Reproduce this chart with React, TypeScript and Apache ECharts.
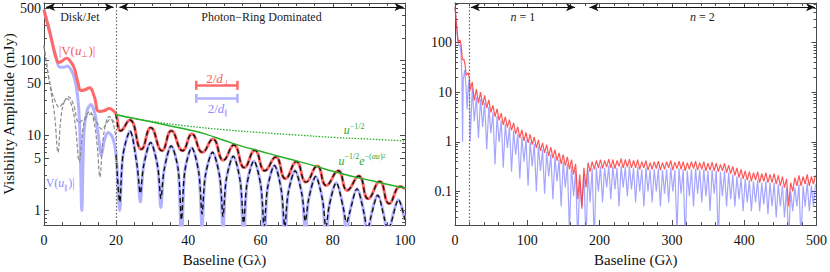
import React, { useEffect, useRef } from "react";
import * as echarts from "echarts";

const FONT = '"Liberation Serif", "Times New Roman", serif';

// ---------- LEFT PANEL DATA (u in Gλ, value in mJy) ----------
const leftRedEarly = [
  [0, 480], [0.8, 340], [1.6, 240], [2.5, 160], [3.4, 108], [4.1, 95], [5, 99], [6.3, 108],
  [7.4, 97], [8.4, 80], [9.4, 52], [10.3, 40], [11.4, 41], [12.6, 43.5], [13.9, 34], [15.3, 21],
  [16.7, 21.5], [18.1, 23], [19.2, 21.5],
];
// red |V(u_perp)| after 20 (and its black dashed fit)
const leftUpper = [
  [20, 19.3], [21.3, 11.6], [23.8, 16.2], [27, 6.6], [29.6, 12.8], [32.7, 6.3], [35.3, 11.6],
  [38.4, 6.3], [41, 10.5], [43.9, 6.0], [46.8, 9.0], [49.7, 4.7], [52.6, 7.5], [55.5, 3.75],
  [58.4, 6.4], [61.2, 3.4], [64.2, 5.2], [66.9, 2.66], [69.9, 4.5], [72.6, 2.4], [75.7, 3.95],
  [78.2, 2.16], [81.5, 3.4], [84, 1.86], [87.2, 2.9], [89.8, 1.44], [93, 2.45], [95.6, 1.24],
  [98.7, 2.1], [100, 1.95],
];
const leftBlueEarly = [
  [0, 480], [0.8, 345], [1.6, 255], [2.4, 165], [3.3, 114], [4.3, 82], [5.4, 82], [6.5, 85],
  [7.5, 76], [8.4, 60], [9.3, 35], [9.9, 14], [10.5, 1.0], [11.1, 11], [12, 22], [13, 26],
  [14.1, 20], [15.1, 10], [15.9, 5.4], [16.7, 8.5], [17.8, 11], [19, 9.5],
];
// blue |V(u_par)| after 20 and its black dashed fit: shared baselines
const lowerU = [
  20, 21, 21.9, 23.85, 25.8, 26.7, 27.6, 29.55, 31.5, 32.4, 33.3, 35.25, 37.2, 38.1, 39, 40.95,
  42.9, 43.8, 44.7, 46.7, 48.7, 49.6, 50.5, 52.45, 54.4, 55.3, 56.2, 58.15, 60.1, 61, 61.9, 63.85,
  65.8, 66.7, 67.6, 69.55, 71.5, 72.4, 73.3, 75.25, 77.2, 78.1, 79, 80.95, 82.9, 83.8, 84.7, 86.7,
  88.7, 89.6, 90.5, 92.45, 94.4, 95.3, 96.2, 98.2, 100,
];
const lowerBlack = [
  5.5, 1.3, 5.5, 11.5, 4.0, 1.7, 3.9, 8.1, 3.9, 1.45, 3.5, 7.3, 3.5, 0.75, 3.3, 6.9,
  3.2, 0.9, 2.9, 6.0, 2.8, 0.83, 2.6, 5.3, 2.4, 0.68, 2.2, 4.6, 2.1, 0.6, 1.95, 4.0,
  1.8, 0.6, 1.65, 3.4, 1.6, 0.72, 1.4, 2.85, 1.35, 0.6, 1.15, 2.35, 1.1, 0.7, 0.95, 1.95,
  0.9, 0.55, 0.8, 1.6, 0.75, 0.55, 0.7, 1.4, 0.75,
];
const lowerBlue = [
  5.5, 1.0, 5.5, 11.5, 4.0, 1.3, 3.9, 8.1, 3.9, 1.1, 3.5, 7.3, 3.5, 0.3, 3.3, 6.9,
  3.2, 0.6, 2.9, 6.0, 2.8, 0.55, 2.6, 5.3, 2.4, 0.3, 2.2, 4.6, 2.1, 0.3, 1.95, 4.0,
  1.8, 0.3, 1.65, 3.4, 1.6, 0.5, 1.4, 2.85, 1.35, 0.3, 1.15, 2.35, 1.1, 0.45, 0.95, 1.95,
  0.9, 0.3, 0.8, 1.6, 0.75, 0.3, 0.7, 1.4, 0.75,
];
const grayUpper = [
  [0, 160], [0.6, 100], [1.3, 62], [2, 42], [3, 30], [4.2, 24], [5.4, 28], [6.8, 33], [8.2, 26],
  [9.7, 15], [11.2, 17], [12.9, 19.5], [14.6, 15], [16.1, 12.2], [17.3, 14.5], [18.4, 16.6],
  [19.4, 15.5], [20, 14.5],
];
const grayLower = [
  [0, 160], [0.6, 100], [1.3, 60], [2, 38], [3, 18], [3.9, 6], [4.7, 17], [5.6, 28], [6.5, 31],
  [7.6, 26], [8.7, 14], [9.8, 4.5], [10.8, 12], [11.8, 19], [12.7, 21], [13.8, 16], [14.8, 7],
  [15.5, 2.8], [16.3, 8], [17.2, 15], [18.1, 18], [19.1, 15], [20, 9],
];
const greenEnvelope = [
  [20, 19], [25, 17], [30, 15.2], [35, 13.5], [40, 12], [45, 10.4], [50, 8.6], [55, 7.2],
  [60, 6.2], [65, 5.3], [70, 4.6], [75, 3.95], [80, 3.35], [85, 2.9], [90, 2.55], [95, 2.25],
  [100, 2.0],
];
const greenPower = [
  [20, 19], [30, 15.5], [40, 13.4], [50, 12], [60, 11], [70, 10.2], [80, 9.5], [90, 9], [100, 8.5],
];
// scale bars 2/d (Gλ span, height in mJy)
const barPerp = { from: 42.2, to: 53.6, level: 47 };
const barPar = { from: 42.2, to: 53.6, level: 31.4 };

// ---------- RIGHT PANEL DATA ----------
const rightRedEarly = [
  [0, 520], [1, 360], [2, 240], [3, 160], [4, 118], [5, 102], [6.8, 113], [8.5, 88], [10.3, 45],
  [12.3, 46], [14, 35], [15.5, 22], [18.2, 24.5], [20, 19],
];
const rightBlueEarly = [
  [0, 520], [1, 360], [2, 250], [3, 150], [4, 100], [5.3, 86], [6.8, 90], [8.3, 60], [9.6, 20],
  [10.5, 1.0], [11.4, 18], [13.5, 28], [15.3, 12], [16.8, 4.5], [18, 12], [19.6, 18],
];
const rightFirstTrough = 21;
const rightPeriod = 5.72;
const rightRedTrough = [
  11, 6.8, 6.0, 5.5, 4.8, 3.9, 3.2, 2.7, 2.2, 1.95, 1.7, 1.45, 1.2, 1.05, 0.95, 0.88, 0.75, 0.66,
  0.6, 0.52, 0.47, 0.42, 0.36, 0.33, 0.28, 0.22, 0.07, 0.045, 0.12, 0.25, 0.28, 0.3, 0.29, 0.31,
  0.3, 0.29, 0.32, 0.3, 0.31, 0.3, 0.3, 0.28, 0.3, 0.27, 0.28, 0.29, 0.27, 0.28, 0.3, 0.27, 0.29,
  0.28, 0.26, 0.28, 0.29, 0.27, 0.28, 0.26, 0.27, 0.26, 0.25, 0.26, 0.24, 0.23, 0.21, 0.19, 0.18,
  0.17, 0.16, 0.17, 0.15, 0.16, 0.15, 0.15, 0.14, 0.13, 0.12, 0.05, 0.1, 0.13, 0.13, 0.14, 0.13,
  0.14,
];
const rightRedPeak = [
  16, 11.5, 10, 8.6, 7.0, 5.4, 4.6, 3.8, 3.2, 2.8, 2.4, 2.0, 1.75, 1.55, 1.42, 1.25, 1.1, 0.95,
  0.88, 0.78, 0.7, 0.6, 0.55, 0.5, 0.44, 0.36, 0.22, 0.3, 0.38, 0.4, 0.42, 0.44, 0.42, 0.45, 0.44,
  0.42, 0.46, 0.44, 0.45, 0.42, 0.44, 0.4, 0.42, 0.38, 0.4, 0.41, 0.38, 0.4, 0.42, 0.39, 0.41, 0.4,
  0.38, 0.4, 0.41, 0.38, 0.4, 0.37, 0.39, 0.37, 0.35, 0.37, 0.34, 0.32, 0.3, 0.28, 0.26, 0.25,
  0.24, 0.25, 0.23, 0.24, 0.22, 0.23, 0.21, 0.2, 0.18, 0.15, 0.19, 0.21, 0.2, 0.22, 0.2, 0.21,
];
const rightBlueTrough = [
  1.0, 2.6, 1.2, 2.0, 0.7, 1.5, 0.35, 1.0, 0.3, 0.75, 0.25, 0.55, 0.18, 0.4, 0.13, 0.32, 0.1, 0.26,
  0.09, 0.2, 0.07, 0.16, 0.05, 0.12, 0.015, 0.08, 0.01, 0.05, 0.01, 0.06, 0.01, 0.1, 0.06, 0.12,
  0.07, 0.11, 0.05, 0.12, 0.08, 0.11, 0.06, 0.1, 0.05, 0.1, 0.06, 0.1, 0.05, 0.09, 0.06, 0.1, 0.015,
  0.09, 0.01, 0.08, 0.05, 0.09, 0.06, 0.08, 0.04, 0.09, 0.01, 0.08, 0.05, 0.07, 0.05, 0.07, 0.04,
  0.06, 0.04, 0.06, 0.04, 0.055, 0.035, 0.05, 0.03, 0.05, 0.03, 0.01, 0.04, 0.05, 0.01, 0.05, 0.04,
  0.05,
];
const rightBluePeak = [
  12, 8, 7.3, 6.2, 5.0, 3.9, 3.3, 2.7, 2.3, 2.0, 1.7, 1.45, 1.25, 1.1, 1.0, 0.9, 0.8, 0.7, 0.63,
  0.56, 0.5, 0.44, 0.4, 0.36, 0.32, 0.26, 0.16, 0.22, 0.27, 0.29, 0.3, 0.32, 0.3, 0.33, 0.32, 0.3,
  0.33, 0.31, 0.32, 0.3, 0.31, 0.28, 0.3, 0.27, 0.28, 0.29, 0.27, 0.28, 0.3, 0.27, 0.29, 0.28, 0.26,
  0.28, 0.29, 0.27, 0.28, 0.26, 0.27, 0.26, 0.25, 0.26, 0.24, 0.22, 0.2, 0.19, 0.18, 0.17, 0.16,
  0.17, 0.15, 0.16, 0.15, 0.15, 0.14, 0.13, 0.12, 0.1, 0.12, 0.14, 0.13, 0.15, 0.13, 0.14,
];

const leftMajorY = [1, 5, 10, 50, 100, 500];
const leftMinorY = [0.7, 0.8, 0.9, 2, 3, 4, 6, 7, 8, 9, 20, 30, 40, 60, 70, 80, 90, 200, 300, 400];
const rightMajorY = [0.1, 1, 10, 100];
const rightMinorY = [
  0.03, 0.04, 0.05, 0.06, 0.07, 0.08, 0.09, 0.2, 0.3, 0.4, 0.5, 0.6, 0.7, 0.8, 0.9,
  2, 3, 4, 5, 6, 7, 8, 9, 20, 30, 40, 50, 60, 70, 80, 90, 200, 300, 400, 500, 600,
];

function buildOption() {
  const leftRed = [...leftRedEarly, ...leftUpper];
  const leftBlue = [...leftBlueEarly, ...lowerU.map((u, i) => [u, lowerBlue[i]])];
  const leftLowerFit = lowerU.map((u, i) => [u, lowerBlack[i]]);

  const rightRed: number[][] = [...rightRedEarly];
  const rightBlue: number[][] = [...rightBlueEarly];
  for (let i = 0; i < rightRedPeak.length; i++) {
    const ut = rightFirstTrough + i * rightPeriod;
    rightRed.push([ut, rightRedTrough[i]], [ut + rightPeriod / 2, rightRedPeak[i]]);
    rightBlue.push([ut, rightBlueTrough[i]], [ut + rightPeriod / 2, rightBluePeak[i]]);
  }

  const axisColor = "#4a4a4a";
  const labelStyle = { fontSize: 14, fontFamily: FONT, color: "#111" };

  const xPair = (gridIndex: number, max: number, interval: number, split: number) => {
    const common: any = {
      gridIndex, type: "value", min: 0, max, interval,
      axisLine: { show: true, lineStyle: { color: axisColor, width: 1 } },
      axisTick: { show: true, inside: true, length: 5, lineStyle: { color: axisColor } },
      minorTick: { show: true, splitNumber: split, length: 3, lineStyle: { color: axisColor } },
      splitLine: { show: false },
    };
    return [
      {
        ...common, position: "bottom",
        axisLabel: { show: true, margin: 8, ...labelStyle },
        name: "Baseline (Gλ)", nameLocation: "middle", nameGap: 26,
        nameTextStyle: { fontSize: 15, fontFamily: FONT, color: "#111" },
      },
      { ...common, position: "top", axisLabel: { show: false } },
    ];
  };

  const fmt = (v: number) => String(+Number(v).toPrecision(3));
  const yQuad = (gridIndex: number, min: number, max: number, major: number[], minor: number[], name?: string) => {
    const base: any = { gridIndex, type: "log", logBase: 10, min, max, splitLine: { show: false } };
    const line = { show: true, lineStyle: { color: axisColor, width: 1 } };
    const majT = { show: true, inside: true, length: 5, customValues: major, lineStyle: { color: axisColor } };
    const minT = { show: true, inside: true, length: 3, customValues: minor, lineStyle: { color: axisColor } };
    return [
      {
        ...base, position: "left", axisLine: line, axisTick: majT,
        axisLabel: { show: true, customValues: major, formatter: fmt, margin: 3, ...labelStyle },
        ...(name ? {
          name, nameLocation: "middle", nameGap: 24,
          nameTextStyle: { fontSize: 15, fontFamily: FONT, color: "#111" },
        } : {}),
      },
      { ...base, position: "left", axisLine: { show: false }, axisTick: minT, axisLabel: { show: false } },
      { ...base, position: "right", axisLine: line, axisTick: majT, axisLabel: { show: false } },
      { ...base, position: "right", axisLine: { show: false }, axisTick: minT, axisLabel: { show: false } },
    ];
  };

  const arrowLine = (x0: number, x1: number, y: number, text: string) => [
    {
      coord: [x0, y],
      label: {
        show: true, position: "insideMiddleBottom", distance: 4, formatter: text,
        fontSize: 12, fontFamily: FONT, color: "#222",
        rich: { i: { fontStyle: "italic", fontSize: 12, fontFamily: FONT, color: "#222" } },
      },
      lineStyle: { color: "#111", width: 1, type: "solid" },
    },
    { coord: [x1, y] },
  ];
  const arrowMarks = (items: any[]) => ({
    silent: true, animation: false, symbol: ["arrow", "arrow"], symbolSize: [6, 9], data: items,
  });
  const vLineMark = {
    silent: true, animation: false, symbol: ["none", "none"],
    label: { show: false },
    lineStyle: { color: "#666", width: 1.2, type: [1.5, 2] },
    data: [{ xAxis: 20 }],
  };
  const barMark = (bar: { from: number; to: number; level: number }, color: string) => ({
    silent: true, animation: false, symbol: ["rect", "rect"], symbolSize: [9, 2.5],
    label: { show: false },
    lineStyle: { color, width: 2.5, type: "solid" },
    itemStyle: { color },
    data: [[{ coord: [bar.from, bar.level] }, { coord: [bar.to, bar.level] }]],
  });

  const redThick = "rgb(255,105,105)";
  const blueThick = "rgb(178,178,255)";
  const green = "#25b025";

  const lineBase = { type: "line", showSymbol: false, symbol: "none", silent: true, animation: false };

  return {
    animation: false,
    grid: [
      { left: 41, top: 3, width: 364, height: 224 },
      { left: 455, top: 3, width: 365, height: 224 },
    ],
    xAxis: [...xPair(0, 100, 20, 4), ...xPair(1, 500, 100, 5)],
    yAxis: [
      ...yQuad(0, 0.64, 590, leftMajorY, leftMinorY, "Visibility Amplitude (mJy)"),
      ...yQuad(1, 0.021, 627, rightMajorY, rightMinorY),
    ],
    series: [
      {
        ...lineBase, name: "|V(u∥)|", xAxisIndex: 0, yAxisIndex: 0, data: leftBlue, smooth: 0.3,
        lineStyle: { color: blueThick, width: 3 }, z: 1,
        markLine: barMark(barPar, blueThick),
      },
      {
        ...lineBase, name: "|V(u⊥)|", xAxisIndex: 0, yAxisIndex: 0, data: leftRed, smooth: 0.5,
        lineStyle: { color: redThick, width: 3 }, z: 2,
        markLine: barMark(barPerp, redThick),
      },
      {
        ...lineBase, name: "grayUpper", xAxisIndex: 0, yAxisIndex: 0, data: grayUpper, smooth: 0.4,
        lineStyle: { color: "#8c8c8c", width: 1.2, type: [4, 2] }, z: 3,
        markLine: vLineMark,
      },
      {
        ...lineBase, name: "grayLower", xAxisIndex: 0, yAxisIndex: 0, data: grayLower, smooth: 0.4,
        lineStyle: { color: "#8c8c8c", width: 1.2, type: [4, 2] }, z: 3,
        markLine: arrowMarks([
          arrowLine(0.6, 19.3, 520, "Disk/Jet"),
          arrowLine(20.9, 99.6, 520, "Photon−Ring Dominated"),
        ]),
      },
      {
        ...lineBase, name: "fitUpper", xAxisIndex: 0, yAxisIndex: 0, data: leftUpper, smooth: 0.5,
        lineStyle: { color: "#111", width: 1.4, type: [5, 3] }, z: 4,
      },
      {
        ...lineBase, name: "fitLower", xAxisIndex: 0, yAxisIndex: 0, data: leftLowerFit, smooth: 0.3,
        lineStyle: { color: "#111", width: 1.4, type: [5, 3] }, z: 4,
      },
      {
        ...lineBase, name: "u^-1/2", xAxisIndex: 0, yAxisIndex: 0, data: greenPower, smooth: true,
        lineStyle: { color: green, width: 1.3, type: [1.5, 1.5] }, z: 5,
      },
      {
        ...lineBase, name: "envelope", xAxisIndex: 0, yAxisIndex: 0, data: greenEnvelope, smooth: true,
        lineStyle: { color: green, width: 1.5 }, z: 5,
      },
      {
        ...lineBase, name: "rightBlue", xAxisIndex: 2, yAxisIndex: 4, data: rightBlue,
        lineStyle: { color: "rgba(105,105,255,0.6)", width: 1.2 }, z: 1,
        markLine: arrowMarks([
          arrowLine(22, 166, 514, "{i|n} = 1"),
          arrowLine(186, 498, 514, "{i|n} = 2"),
        ]),
      },
      {
        ...lineBase, name: "rightRed", xAxisIndex: 2, yAxisIndex: 4, data: rightRed,
        lineStyle: { color: "rgba(255,45,45,0.8)", width: 1.2 }, z: 2,
        markLine: vLineMark,
      },
    ],
    graphic: [
      {
        type: "text", x: 77, y: 50,
        style: {
          text: "{a||V(}{i|u}{s|⊥}{a|)|}", align: "center", verticalAlign: "middle",
          rich: {
            a: { fontSize: 13, fontFamily: FONT, fill: "#f25a5a", lineHeight: 16 },
            i: { fontSize: 13, fontFamily: FONT, fontStyle: "italic", fill: "#f25a5a", lineHeight: 16 },
            s: { fontSize: 8, fontFamily: FONT, fill: "#f25a5a", verticalAlign: "bottom" },
          },
        },
      },
      {
        type: "text", x: 59, y: 183,
        style: {
          text: "{a||V(}{i|u}{s|∥}{a|)|}", align: "center", verticalAlign: "middle",
          rich: {
            a: { fontSize: 12, fontFamily: FONT, fill: "#8c8cff", lineHeight: 16 },
            i: { fontSize: 12, fontFamily: FONT, fontStyle: "italic", fill: "#8c8cff", lineHeight: 16 },
            s: { fontSize: 7, fontFamily: FONT, fill: "#8c8cff", verticalAlign: "bottom" },
          },
        },
      },
      {
        type: "text", x: 218, y: 78,
        style: {
          text: "{a|2/}{i|d}{s|⊥}", align: "center", verticalAlign: "middle",
          rich: {
            a: { fontSize: 13, fontFamily: FONT, fill: "#f25a5a", lineHeight: 16 },
            i: { fontSize: 13, fontFamily: FONT, fontStyle: "italic", fill: "#f25a5a", lineHeight: 16 },
            s: { fontSize: 8, fontFamily: FONT, fill: "#f25a5a", verticalAlign: "bottom" },
          },
        },
      },
      {
        type: "text", x: 218, y: 108,
        style: {
          text: "{a|2/}{i|d}{s|∥}", align: "center", verticalAlign: "middle",
          rich: {
            a: { fontSize: 13, fontFamily: FONT, fill: "#8c8cff", lineHeight: 16 },
            i: { fontSize: 13, fontFamily: FONT, fontStyle: "italic", fill: "#8c8cff", lineHeight: 16 },
            s: { fontSize: 7, fontFamily: FONT, fill: "#8c8cff", verticalAlign: "bottom" },
          },
        },
      },
      {
        type: "text", x: 354, y: 130,
        style: {
          text: "{i|u}{s|−1/2}", align: "center", verticalAlign: "middle",
          rich: {
            i: { fontSize: 12, fontFamily: FONT, fontStyle: "italic", fill: "#2fa82f", lineHeight: 16 },
            s: { fontSize: 8, fontFamily: FONT, fill: "#2fa82f", verticalAlign: "top" },
          },
        },
      },
      {
        type: "text", x: 362, y: 161,
        style: {
          text: "{i|u}{s|−1/2}{i|e}{s|−(}{si|αu}{s|)}{ss|2}", align: "center", verticalAlign: "middle",
          rich: {
            i: { fontSize: 12, fontFamily: FONT, fontStyle: "italic", fill: "#2fa82f", lineHeight: 17 },
            s: { fontSize: 8, fontFamily: FONT, fill: "#2fa82f", verticalAlign: "top" },
            si: { fontSize: 8, fontFamily: FONT, fontStyle: "italic", fill: "#2fa82f", verticalAlign: "top" },
            ss: { fontSize: 6, fontFamily: FONT, fill: "#2fa82f", verticalAlign: "top" },
          },
        },
      },
    ],
  };
}

export default function App() {
  const ref = useRef<HTMLDivElement>(null);
  useEffect(() => {
    if (!ref.current) return;
    const chart = echarts.init(ref.current, null, { renderer: "svg" });
    chart.setOption(buildOption() as any);
    return () => chart.dispose();
  }, []);
  return (
    <div
      ref={ref}
      style={{ position: "fixed", left: 0, top: 0, width: 830, height: 272, background: "#fff" }}
    />
  );
}
